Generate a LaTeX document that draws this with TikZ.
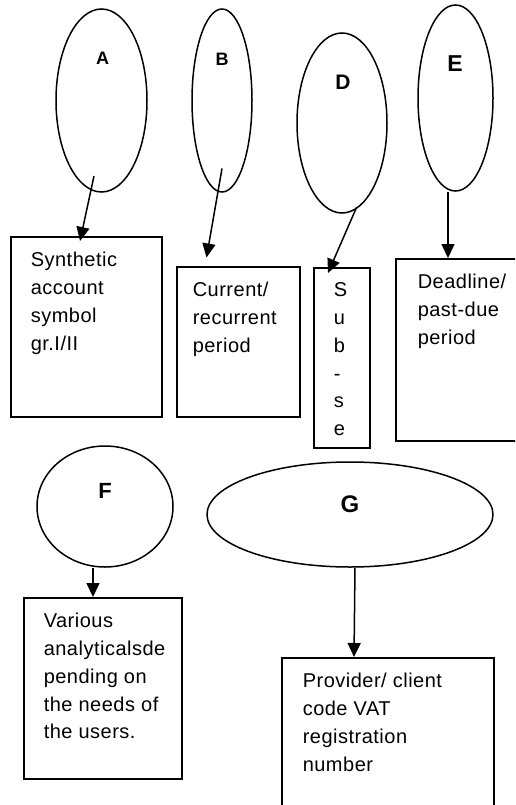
\documentclass[tikz,border=0pt]{standalone}
\usepackage{fontspec}
\setmainfont{Liberation Sans}[LetterSpace=2.5]
\usetikzlibrary{shapes.geometric, arrows.meta}

\begin{document}
\begin{tikzpicture}[x=1pt, y=-1pt, line width=1.5pt,
  ell/.style = {draw, ellipse, inner sep=0pt},
  box/.style = {draw, rectangle, anchor=north west, inner sep=0pt},
  txt/.style = {anchor=north west, inner sep=0pt, align=left, font=\fontsize{20}{27.8}\selectfont},
  lbl/.style = {inner sep=0pt, font=\bfseries\fontsize{#1}{#1}\selectfont},
  arr/.style = {-{Triangle[width=13pt, length=14pt]}}]
\useasboundingbox (0,0) rectangle (515,805);
\clip (0,0) rectangle (515,805);

\node[ell, minimum width=91, minimum height=183] (ellA) at (101.5,100.5) {};
\node[ell, minimum width=60, minimum height=183] (ellB) at (222,100.5) {};
\node[ell, minimum width=90, minimum height=180] (ellD) at (342,123) {};
\node[ell, minimum width=75, minimum height=186] (ellE) at (455.5,98) {};
\node[ell, minimum width=136, minimum height=121] (ellF) at (105,506.5) {};
\node[ell, minimum width=286, minimum height=105] (ellG) at (350,514.5) {};

\node[lbl=18] (labA) at (102.5,58) {A};
\node[lbl=18] (labB) at (222,59) {B};
\node[lbl=21] (labD) at (343,82) {D};
\node[lbl=23] (labE) at (455,63.5) {E};
\node[lbl=22] (labF) at (105,491) {F};
\node[lbl=24] (labG) at (350,504) {G};

\node[box, minimum width=151, minimum height=180] (boxA) at (10,236) {};
\node[box, minimum width=123, minimum height=150] (boxB) at (176,266) {};
\node[box, minimum width=56, minimum height=180] (boxS) at (313,267) {};
\node[box, minimum width=140, minimum height=182] (boxE) at (395,258) {};
\node[box, minimum width=158, minimum height=181] (boxF) at (23,597) {};
\node[box, minimum width=212, minimum height=170] (boxG) at (281,657) {};

\node[txt] (tA) at ([shift={(20,10.5)}]boxA.north west) {\strut Synthetic\\account\\symbol\\gr.I/II};
\node[txt] (tB) at ([shift={(16,10.5)}]boxB.north west) {\strut Current/\\recurrent\\period};
\node[txt] (tS) at ([shift={(20,9.5)}]boxS.north west) {\strut S\\u\\b\\-\\s\\e};
\node[txt] (tE) at ([shift={(22,10.5)}]boxE.north west) {\strut Deadline/\\past-due\\period};
\node[txt] (tF) at ([shift={(20,10.5)}]boxF.north west) {\strut Various\\analyticalsde\\pending on\\the needs of\\the users.};
\node[txt] (tG) at ([shift={(21,10.5)}]boxG.north west) {\strut Provider/ client\\code VAT\\registration\\number};

\draw[arr] ([shift={(-7.5,75.5)}]ellA.center) -- ([shift={(70,5)}]boxA.north west);
\draw[arr] ([shift={(0,68)}]ellB.center) -- ([shift={(30.5,-8.5)}]boxB.north west);
\draw[arr] ([shift={(14.5,84.5)}]ellD.center) -- ([shift={(15,6)}]boxS.north west);
\draw[arr] ([xshift=-7.5]ellE.south) -- ([xshift=53]boxE.north west);
\draw[arr] ([xshift=-12]ellF.south) -- ([xshift=70]boxF.north west);
\draw[arr] ([xshift=5]ellG.south) -- ([xshift=73]boxG.north west);
\end{tikzpicture}
\end{document}
